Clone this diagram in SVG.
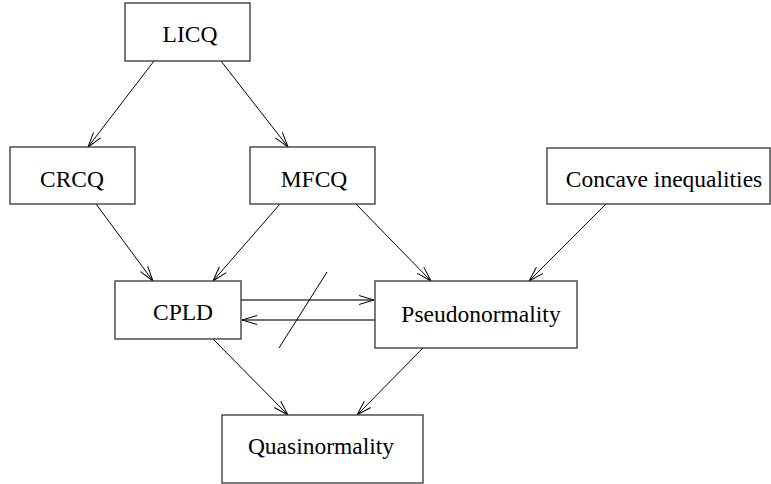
<svg xmlns="http://www.w3.org/2000/svg" width="771" height="484" viewBox="0 0 771 484">
<defs>
<style>
.box{fill:#fff;stroke:#333;stroke-width:1.3}
.lbl{font-family:"Liberation Serif","Times New Roman",serif;font-size:23.5px;fill:#000;text-anchor:middle}
.edge{stroke:#000;stroke-width:1;fill:none}
.edge2{stroke:#444;stroke-width:1.5;fill:none}
</style>
<marker id="arr" markerUnits="userSpaceOnUse" markerWidth="20" markerHeight="12" refX="0" refY="0" viewBox="-16 -6 18 12" orient="auto" overflow="visible">
<path d="M -15 -4.5 L 0 0 L -15 4.5" fill="none" stroke="#000" stroke-width="1"/>
</marker>
</defs>
<rect width="771" height="484" fill="#fff"/>
<g id="connectors">
<line class="edge" x1="154" y1="61" x2="88" y2="147" marker-end="url(#arr)"/>
<line class="edge" x1="221" y1="61" x2="288" y2="147" marker-end="url(#arr)"/>
<line class="edge" x1="96" y1="204" x2="153" y2="281" marker-end="url(#arr)"/>
<line class="edge" x1="280" y1="204" x2="213" y2="281" marker-end="url(#arr)"/>
<line class="edge" x1="356" y1="204" x2="431" y2="281" marker-end="url(#arr)"/>
<line class="edge" x1="606" y1="204" x2="529" y2="281" marker-end="url(#arr)"/>
<line class="edge2" x1="241" y1="300" x2="374" y2="300" marker-end="url(#arr)"/>
<line class="edge2" x1="375" y1="320" x2="242" y2="320" marker-end="url(#arr)"/>
<line class="edge" x1="327" y1="272" x2="279" y2="348"/>
<line class="edge" x1="213" y1="339" x2="288" y2="415" marker-end="url(#arr)"/>
<line class="edge" x1="423" y1="348" x2="357" y2="415" marker-end="url(#arr)"/>
</g>
<g id="LICQ"><rect class="box" x="125" y="3" width="125" height="58"/><text class="lbl" x="190" y="42">LICQ</text></g>
<g id="CRCQ"><rect class="box" x="10" y="147" width="125" height="57"/><text class="lbl" x="72" y="187">CRCQ</text></g>
<g id="MFCQ"><rect class="box" x="250" y="147" width="125" height="57"/><text class="lbl" x="314" y="187">MFCQ</text></g>
<g id="Concave"><rect class="box" x="547" y="148" width="223" height="56"/><text class="lbl" x="664" y="187">Concave inequalities</text></g>
<g id="CPLD"><rect class="box" x="115" y="281" width="126" height="58"/><text class="lbl" x="183" y="320">CPLD</text></g>
<g id="Pseudonormality"><rect class="box" x="375" y="281" width="202" height="67"/><text class="lbl" x="481" y="322">Pseudonormality</text></g>
<g id="Quasinormality"><rect class="box" x="222" y="415" width="201" height="68"/><text class="lbl" x="321" y="454">Quasinormality</text></g>
</svg>
